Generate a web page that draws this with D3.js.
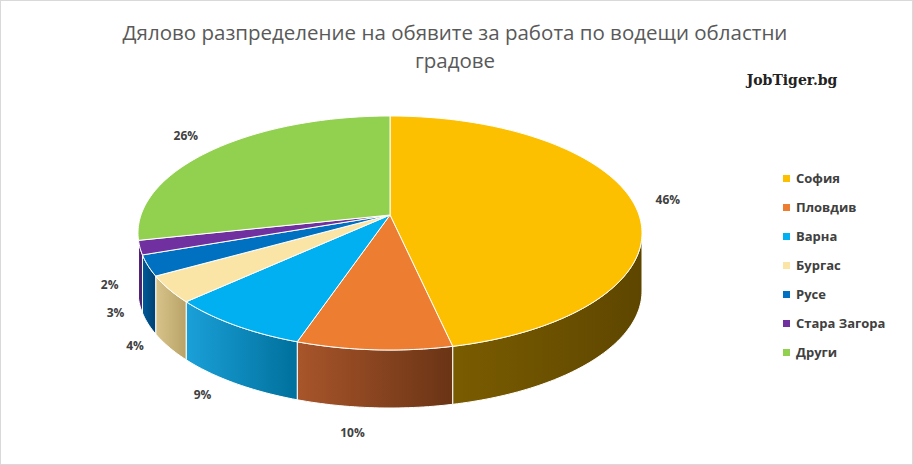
<!DOCTYPE html><html><head><meta charset="utf-8"><script src="https://cdn.jsdelivr.net/npm/d3@7"></script>
<style>body{margin:0;background:#fff}</style></head><body><svg id="c" width="913" height="465"></svg>
<script>
const categories=["София","Пловдив","Варна","Бургас","Русе","Стара Загора","Други"];
const values=[46,10,9,4,3,2,26];
const colors=["#FCC000","#ED7D31","#00B0F0","#FBE5A6","#0070C0","#7030A0","#92D050"];
const sideColors=[["#7a5c00","#5e4600"],["#a8552a","#6a3415"],["#1aa0d8","#00709c"],["#d8c48a","#b8a268"],["#005a9a","#004070"],["#5a2680","#401a60"],["#6ea03a","#4f7a25"]];
const title=["Дялово разпределение на обявите за работа по водещи областни","градове"];
const svg=d3.select("#c");
svg.append("rect").attr("x",0.5).attr("y",0.5).attr("width",912).attr("height",464).attr("fill","#fff").attr("stroke","#d9d9d9");
svg.selectAll("text.t").data(title).join("text").attr("x",455).attr("y",(d,i)=>40+i*28).attr("text-anchor","middle")
 .attr("font-family","Open Sans, sans-serif").attr("font-size",20.5).attr("fill","#595959").text(d=>d);
svg.append("text").attr("x",792).attr("y",85).attr("text-anchor","middle").attr("font-family","DejaVu Serif, serif").attr("font-weight","bold").attr("font-size",14).attr("fill","#222").text("JobTiger.bg");
const cx=390,cy=233,rx=252,ry=117,depth=58,ax=390,ay=215;
const pie=d3.pie().sort(null).value(d=>d).startAngle(0).endAngle(2*Math.PI)(values);
const P=(t,dy=0)=>[cx+rx*Math.sin(t),cy-ry*Math.cos(t)+dy];
const defs=svg.append("defs");
function arcPts(a,b,dy){const n=Math.max(2,Math.ceil((b-a)/0.02));return d3.range(n+1).map(i=>P(a+(b-a)*i/n,dy));}
const gS=svg.append("g"),gT=svg.append("g"),gL=svg.append("g");
pie.forEach((s,i)=>{
 const a=Math.max(s.startAngle,Math.PI/2),b=Math.min(s.endAngle,3*Math.PI/2);
 if(b>a){
  const id="g"+i,p1=P(a),p2=P(b);
  const lg=defs.append("linearGradient").attr("id",id).attr("gradientUnits","userSpaceOnUse").attr("x1",p2[0]).attr("x2",p1[0]).attr("y1",0).attr("y2",0);
  lg.append("stop").attr("offset",0).attr("stop-color",sideColors[i][0]);
  lg.append("stop").attr("offset",1).attr("stop-color",sideColors[i][1]);
  const pts=arcPts(a,b,0).concat(arcPts(a,b,depth).reverse());
  gS.append("path").attr("d","M"+pts.join("L")+"Z").attr("fill",`url(#${id})`).attr("stroke","#fff").attr("stroke-width",1);
 }
 const pts=[[ax,ay]].concat(arcPts(s.startAngle,s.endAngle,0));
 gT.append("path").attr("d","M"+pts.join("L")+"Z").attr("fill",colors[i]).attr("stroke","#fff").attr("stroke-width",1);
 const m=(s.startAngle+s.endAngle)/2, sn=Math.sin(m), cs=Math.cos(m);
 const fl=(cs<0&&sn<0);
 let lx=cx+(rx+28)*sn, ly=cy-(ry+25)*cs+(cs<0?-depth*cs:0)+4;
 if(fl){lx-=20*Math.abs(cs); ly+=28*Math.pow(sn,4);}
 if(sn>0&&cs>0) ly-=15;
 gL.append("text").attr("x",lx).attr("y",ly).attr("text-anchor","middle").attr("font-family","Open Sans, sans-serif").attr("font-weight","bold").attr("font-size",12).attr("fill","#404040").text(values[i]+"%");
});
const lg=svg.append("g").selectAll("g").data(categories).join("g").attr("transform",(d,i)=>`translate(783,${179+i*29})`);
lg.append("rect").attr("x",0).attr("y",-4).attr("width",7).attr("height",7).attr("fill",(d,i)=>colors[i]);
lg.append("text").attr("x",13).attr("y",4).attr("font-family","Open Sans, sans-serif").attr("font-weight","bold").attr("font-size",13).attr("fill","#404040").text(d=>d);
</script></body></html>
